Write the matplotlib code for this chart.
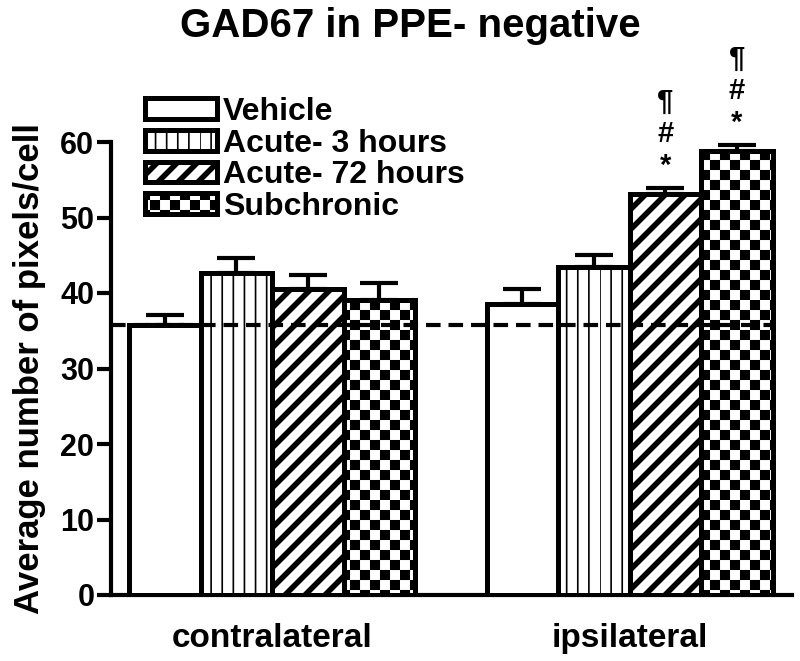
import numpy as np
import matplotlib
matplotlib.use('Agg')
import matplotlib.pyplot as plt
import matplotlib.hatch as mhatch
from matplotlib.path import Path

plt.rcParams['font.family'] = ['Liberation Sans', 'DejaVu Sans']
plt.rcParams['font.weight'] = 'bold'

groups = ['contralateral', 'ipsilateral']
treatments = ['Vehicle', 'Acute- 3 hours', 'Acute- 72 hours', 'Subchronic']

vehicle_mean = [35.7, 38.5]
vehicle_sem = [1.4, 2.0]
acute3_mean = [42.6, 43.4]
acute3_sem = [2.0, 1.6]
acute72_mean = [40.5, 53.1]
acute72_sem = [1.9, 0.8]
subchronic_mean = [39.1, 58.8]
subchronic_sem = [2.2, 0.8]

# significance marks, bottom to top, per group
acute72_sig = [[], ['*', '#', '\u00b6']]
subchronic_sig = [[], ['*', '#', '\u00b6']]
no_sig = [[], []]


class FineVertical(mhatch.HatchPatternBase):
    # vertical lines, 9 per hatch tile
    def __init__(self, hatch, density):
        self.num_lines = 9 if '|' in hatch else 0
        self.num_vertices = self.num_lines * 2

    def set_vertices_and_codes(self, vertices, codes):
        steps = np.linspace(0.0, 1.0, self.num_lines, endpoint=False)
        vertices[0::2, 0] = steps
        vertices[0::2, 1] = 0.0
        vertices[1::2, 0] = steps
        vertices[1::2, 1] = 1.0
        codes[0::2] = Path.MOVETO
        codes[1::2] = Path.LINETO


class WideDiagonal(mhatch.HatchPatternBase):
    # '/' lines, 5 per hatch tile
    def __init__(self, hatch, density):
        self.num_lines = 10 if '/' in hatch else 0
        self.num_vertices = (self.num_lines + 1) * 2 if self.num_lines else 0

    def set_vertices_and_codes(self, vertices, codes):
        steps = np.linspace(-0.5, 0.5, self.num_lines + 1)
        vertices[0::2, 0] = 0.0 + steps
        vertices[0::2, 1] = 0.0 - steps
        vertices[1::2, 0] = 1.0 + steps
        vertices[1::2, 1] = 1.0 - steps
        codes[0::2] = Path.MOVETO
        codes[1::2] = Path.LINETO


class Checker(mhatch.HatchPatternBase):
    # filled checkerboard, 10x10 cells per hatch tile
    def __init__(self, hatch, density):
        self.n = 10 if 'O' in hatch else 0
        self.cells = [(i, j) for i in range(self.n) for j in range(self.n)
                      if (i + j) % 2 == 0]
        self.num_vertices = len(self.cells) * 5

    def set_vertices_and_codes(self, vertices, codes):
        s = 1.0 / self.n
        for k, (i, j) in enumerate(self.cells):
            x0, y0 = i * s, j * s
            vertices[5 * k:5 * k + 5] = [(x0, y0), (x0 + s, y0), (x0 + s, y0 + s),
                                         (x0, y0 + s), (x0, y0)]
            codes[5 * k:5 * k + 5] = [Path.MOVETO, Path.LINETO, Path.LINETO,
                                      Path.LINETO, Path.CLOSEPOLY]


mhatch._hatch_types = [FineVertical, WideDiagonal, Checker]

series = [
    (treatments[0], vehicle_mean, vehicle_sem, '', 1.0, no_sig),
    (treatments[1], acute3_mean, acute3_sem, '|', 1.2, no_sig),
    (treatments[2], acute72_mean, acute72_sem, '/', 4.0, acute72_sig),
    (treatments[3], subchronic_mean, subchronic_sem, 'O', 0.05, subchronic_sig),
]

fig = plt.figure(figsize=(8, 6.61), dpi=100)
ax = fig.add_axes([111 / 800, 66 / 661, 681 / 800, 453 / 661])

group_x = np.array([0.0, 5.0])
hatch_lw = {}
for i, (label, m, e, hatch, hw, sig) in enumerate(series):
    x = group_x + i
    with plt.rc_context({'hatch.linewidth': hw}):
        bars = ax.bar(x, m, width=1.0, color='white', edgecolor='black',
                      linewidth=3.6, hatch=hatch, label=label, zorder=3)
    for b in bars:
        if hasattr(b, 'set_hatch_linewidth'):
            b.set_hatch_linewidth(hw)
    hatch_lw[label] = hw
    ax.errorbar(x, m, yerr=[np.zeros(len(e)), e], fmt='none', ecolor='black',
                elinewidth=3, capsize=14, capthick=3, zorder=2, clip_on=False)
    for xi, mi, ei, marks in zip(x, m, e, sig):
        for k, s in enumerate(marks):
            ax.annotate(s, (xi, mi + ei), xytext=(0, 22 + 32 * k),
                        textcoords='offset pixels', ha='center', va='center',
                        fontsize=21, fontweight='bold', annotation_clip=False)

ax.set_xlim(-0.755, 8.77)
ax.set_ylim(0, 60)

ax.hlines(vehicle_mean[0], ax.get_xlim()[0], group_x[1] + 3.55,
          colors='black', linewidth=3, linestyles=(0, (3.5, 1.9)), zorder=5)

ax.spines['top'].set_visible(False)
ax.spines['right'].set_visible(False)
ax.spines['left'].set_linewidth(3)
ax.spines['bottom'].set_linewidth(3)
ax.set_yticks(np.arange(0, 61, 10))
ax.tick_params(axis='y', direction='out', length=10, width=3, labelsize=22, pad=2)
ax.set_xticks(group_x + 1.5, groups)
ax.tick_params(axis='x', length=0, labelsize=24, pad=20)
ax.set_ylabel('Average number of pixels/cell', fontsize=25, fontweight='bold', labelpad=10)

fig.text(410 / 800, 1 - 26 / 661, 'GAD67 in PPE- negative', fontsize=29,
         fontweight='bold', ha='center', va='center')

leg = ax.legend(loc='upper left', bbox_to_anchor=(145 / 800, 1 - 97 / 661),
                bbox_transform=fig.transFigure, frameon=False, fontsize=23,
                borderpad=0, borderaxespad=0, handlelength=2.25, handleheight=0.62,
                handletextpad=0.2, labelspacing=0.05)
for p, t in zip(leg.get_patches(), leg.get_texts()):
    hw = hatch_lw[t.get_text()]
    if hasattr(p, 'set_hatch_linewidth'):
        p.set_hatch_linewidth(hw)

fig.savefig('out.png', dpi=100)
